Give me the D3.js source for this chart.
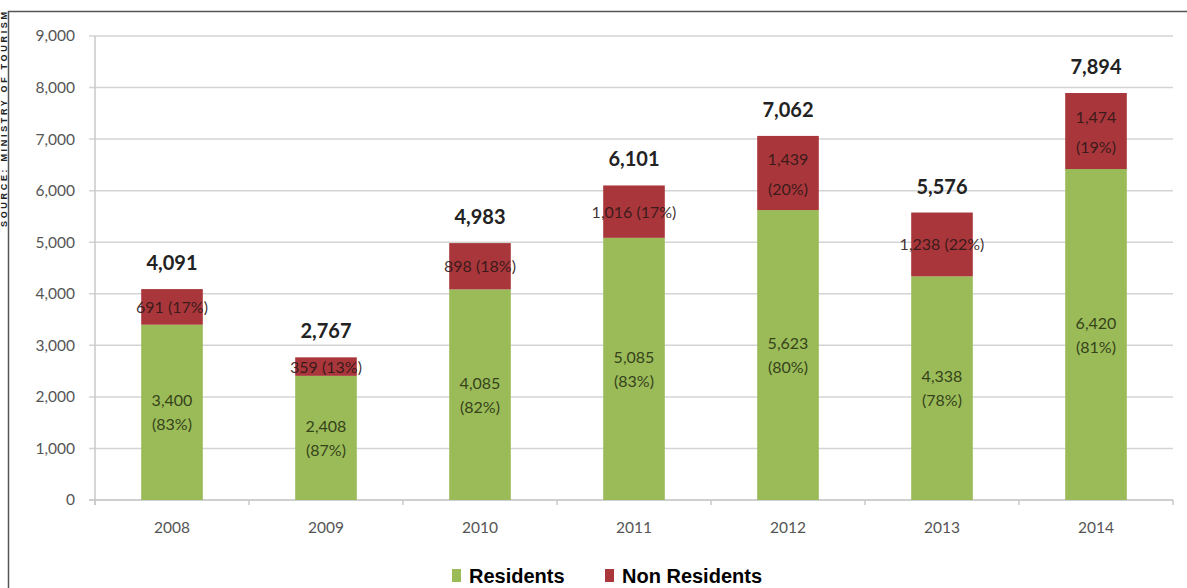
<!DOCTYPE html>
<html>
<head>
<meta charset="UTF-8">
<title>Residents vs Non Residents</title>
<script src="https://cdnjs.cloudflare.com/ajax/libs/d3/7.8.5/d3.min.js"></script>
<style>
  body { margin: 0; background: #fff; }
  svg { display: block; }
  .tick text { font-family: Lato, "Open Sans", sans-serif; fill: #555; }
</style>
</head>
<body>
<svg id="chart" width="1187" height="588"></svg>
<script>
// data
var years = ['2008', '2009', '2010', '2011', '2012', '2013', '2014'];
var residents = [3400, 2408, 4085, 5085, 5623, 4338, 6420];
var nonResidents = [691, 359, 898, 1016, 1439, 1238, 1474];
var residentPct = ['83%', '87%', '82%', '83%', '80%', '78%', '81%'];
var nonResidentPct = ['17%', '13%', '18%', '17%', '20%', '22%', '19%'];
var totals = [4091, 2767, 4983, 6101, 7062, 5576, 7894];
// non resident label split on two lines?
var twoLine = [false, false, false, false, true, false, true];
var yTicks = [0, 1000, 2000, 3000, 4000, 5000, 6000, 7000, 8000, 9000];

var svg = d3.select('#chart');
var margin = { top: 36, left: 95, right: 14, bottom: 88 };
var W = 1187, H = 588;
var fmt = d3.format(',');

// frame
svg.append('path')
  .attr('d', 'M8.5,' + H + 'V11.5H' + W)
  .attr('fill', 'none').attr('stroke', '#555').attr('stroke-width', 1.5);

// source note squeezed along the left edge
svg.append('text')
  .attr('transform', 'translate(7,12) rotate(-90)')
  .attr('text-anchor', 'end')
  .attr('font-family', 'Liberation Sans, Arial, sans-serif')
  .attr('font-weight', 'bold')
  .attr('font-size', 9)
  .attr('textLength', 215)
  .attr('fill', '#222')
  .text('SOURCE: MINISTRY OF TOURISM');

var x = d3.scaleBand().domain(years)
  .range([margin.left, W - margin.right])
  .paddingInner(0.6).paddingOuter(0.3);
var y = d3.scaleLinear().domain([0, 9000])
  .range([H - margin.bottom, margin.top]);

// gridlines
svg.append('g')
  .selectAll('line').data(yTicks).join('line')
  .attr('x1', margin.left - 6).attr('x2', W - margin.right)
  .attr('y1', function(d) { return y(d); })
  .attr('y2', function(d) { return y(d); })
  .attr('stroke', function(d) { return d === 0 ? '#bfbfbf' : '#d4d4d4'; })
  .attr('stroke-width', 1.5);

// y axis
var yAxis = svg.append('g')
  .attr('transform', 'translate(' + margin.left + ',0)')
  .call(d3.axisLeft(y).tickValues(yTicks).tickFormat(fmt).tickSize(0).tickPadding(20));
yAxis.select('.domain').attr('stroke', '#c8c8c8').attr('stroke-width', 1.5)
  .attr('d', 'M0,' + y(9000) + 'V' + (y(0) + 5));
yAxis.selectAll('.tick text').attr('font-size', 15.5);

// x axis, ticks on category boundaries
var xAxis = svg.append('g')
  .attr('transform', 'translate(0,' + y(0) + ')')
  .call(d3.axisBottom(x).tickSize(0).tickPadding(22));
xAxis.select('.domain').remove();
xAxis.selectAll('.tick text').attr('font-size', 15.5);
var step = x.step();
svg.append('g').selectAll('line').data(d3.range(years.length + 1)).join('line')
  .attr('x1', function(i) { return margin.left + i * step; })
  .attr('x2', function(i) { return margin.left + i * step; })
  .attr('y1', y(0)).attr('y2', y(0) + 5)
  .attr('stroke', '#c8c8c8').attr('stroke-width', 1.5);

var green = '#9bbb59', red = '#a8363b';
var idx = d3.range(years.length);

// bars
svg.append('g').selectAll('rect').data(idx).join('rect')
  .attr('x', function(i) { return x(years[i]); })
  .attr('width', x.bandwidth())
  .attr('y', function(i) { return y(residents[i]); })
  .attr('height', function(i) { return y(0) - y(residents[i]); })
  .attr('fill', green);
svg.append('g').selectAll('rect').data(idx).join('rect')
  .attr('x', function(i) { return x(years[i]); })
  .attr('width', x.bandwidth())
  .attr('y', function(i) { return y(totals[i]); })
  .attr('height', function(i) { return y(residents[i]) - y(totals[i]); })
  .attr('fill', red);

var cx = function(i) { return x(years[i]) + x.bandwidth() / 2; };
var font = 'Lato, "Open Sans", sans-serif';

// resident labels
var rl = svg.append('g').selectAll('text').data(idx).join('text')
  .attr('text-anchor', 'middle')
  .attr('font-family', font).attr('font-size', 16)
  .attr('fill', '#35431a')
  .attr('x', cx)
  .attr('y', function(i) { return (y(0) + y(residents[i])) / 2 - 6; });
rl.append('tspan').attr('x', cx).text(function(i) { return fmt(residents[i]); });
rl.append('tspan').attr('x', cx).attr('dy', 24).text(function(i) { return '(' + residentPct[i] + ')'; });

// non resident labels
var nl = svg.append('g').selectAll('text').data(idx).join('text')
  .attr('text-anchor', 'middle')
  .attr('font-family', font).attr('font-size', 16)
  .attr('fill', '#2e1616').attr('fill-opacity', 0.9)
  .attr('x', cx)
  .attr('y', function(i) {
    var mid = (y(residents[i]) + y(totals[i])) / 2;
    return twoLine[i] ? mid - 8 : mid + 6;
  });
nl.each(function(i) {
  var t = d3.select(this);
  if (twoLine[i]) {
    t.append('tspan').attr('x', cx(i)).text(fmt(nonResidents[i]));
    t.append('tspan').attr('x', cx(i)).attr('dy', 30).text('(' + nonResidentPct[i] + ')');
  } else {
    t.text(fmt(nonResidents[i]) + ' (' + nonResidentPct[i] + ')');
  }
});

// totals
svg.append('g').selectAll('text').data(idx).join('text')
  .attr('text-anchor', 'middle')
  .attr('font-family', font).attr('font-weight', 'bold').attr('font-size', 20)
  .attr('fill', '#222')
  .attr('x', cx)
  .attr('y', function(i) { return y(totals[i]) - 19; })
  .text(function(i) { return fmt(totals[i]); });

// legend
var legend = [
  { name: 'Residents', color: green, x: 452 },
  { name: 'Non Residents', color: red, x: 605 }
];
var lg = svg.append('g').selectAll('g').data(legend).join('g')
  .attr('transform', function(d) { return 'translate(' + d.x + ',569)'; });
lg.append('rect').attr('width', 9).attr('height', 13).attr('fill', function(d) { return d.color; });
lg.append('text')
  .attr('x', 17).attr('y', 14)
  .attr('font-family', 'Liberation Sans, Arial, sans-serif')
  .attr('font-weight', 'bold').attr('font-size', 20)
  .attr('fill', '#000')
  .text(function(d) { return d.name; });
</script>
</body>
</html>
